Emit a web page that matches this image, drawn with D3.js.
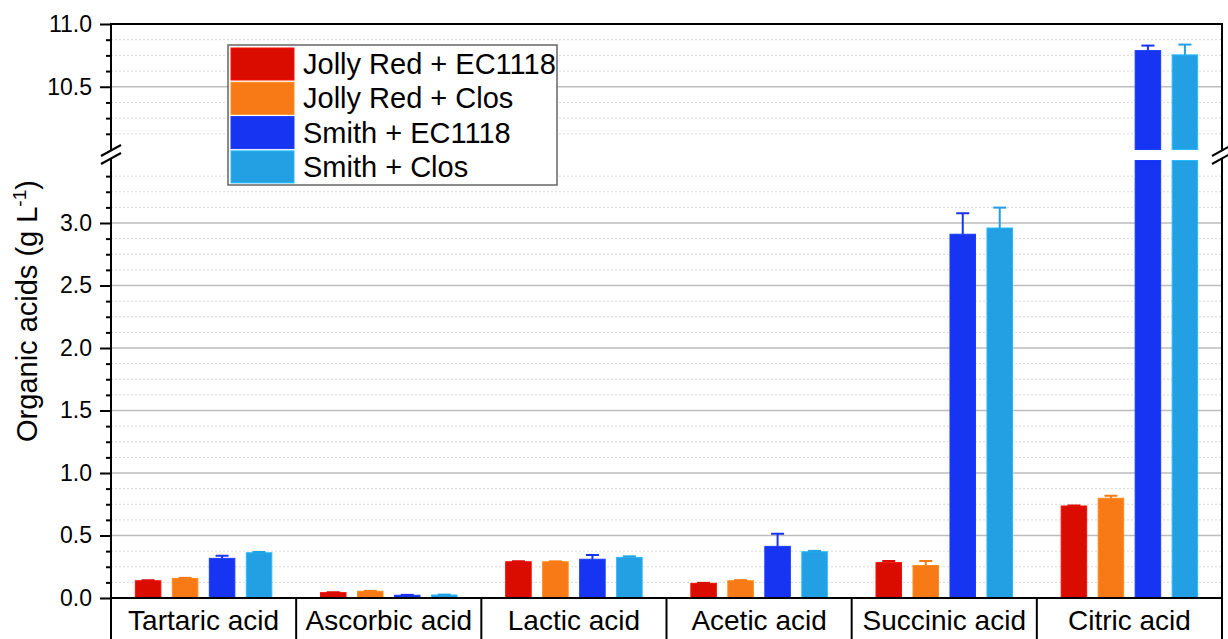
<!DOCTYPE html>
<html>
<head>
<meta charset="utf-8">
<script src="https://cdn.jsdelivr.net/npm/d3@7"></script>
<style>
  body { margin: 0; background: #fff; }
  svg text { font-family: "Liberation Sans", Arial, sans-serif; fill: #000; }
</style>
</head>
<body>
<svg id="chart" width="1228" height="639"></svg>
<script>
// data
const categories = ["Tartaric acid", "Ascorbic acid", "Lactic acid", "Acetic acid", "Succinic acid", "Citric acid"];
const seriesNames = ["Jolly Red + EC1118", "Jolly Red + Clos", "Smith + EC1118", "Smith + Clos"];
const seriesColors = ["#da0c00", "#f77a16", "#1634f2", "#22a0e3"];

const jollyEC = [0.138, 0.043, 0.290, 0.117, 0.283, 0.736];
const jollyEC_err = [0.004, 0.003, 0.004, 0.004, 0.013, 0.004];
const jollyClos = [0.157, 0.054, 0.290, 0.138, 0.260, 0.798];
const jollyClos_err = [0.004, 0.003, 0.003, 0.005, 0.036, 0.020];
const smithEC = [0.317, 0.022, 0.310, 0.413, 2.910, 10.788];
const smithEC_err = [0.021, 0.003, 0.034, 0.101, 0.168, 0.040];
const smithClos = [0.362, 0.024, 0.325, 0.370, 2.960, 10.754];
const smithClos_err = [0.006, 0.003, 0.008, 0.007, 0.163, 0.082];

const lowerMajor = [0, 0.5, 1.0, 1.5, 2.0, 2.5, 3.0];
const upperMajor = [10.5, 11.0];

const svg = d3.select('#chart');
const width = +svg.attr('width');
const height = +svg.attr('height');

const pLeft = 111, pRight = 1222, pTop = 24, pBottom = 598;
const values = [jollyEC, jollyClos, smithEC, smithClos];
const errors = [jollyEC_err, jollyClos_err, smithEC_err, smithClos_err];

// broken y axis: two linear pieces
const yLow = d3.scaleLinear().domain([0, 3.5]).range([pBottom, 160.5]);
const yHigh = d3.scaleLinear().domain([10, 11]).range([149.5, pTop]);
const yv = v => v > 3.5 ? yHigh(v) : yLow(v);

const groupW = 136.5;
const x0 = d3.scaleBand().domain(categories).range([pLeft, pRight]).padding(0);
const x1 = d3.scaleBand().domain(seriesNames).range([0, groupW]).paddingInner(0.31).paddingOuter(0);
const groupOff = (x0.bandwidth() - groupW) / 2;

const isHalf = v => Math.abs(v * 2 - Math.round(v * 2)) < 1e-6;
const minorLow = d3.range(0.125, 3.4, 0.125).filter(v => !isHalf(v));
const minorHigh = d3.range(10.125, 11, 0.125).filter(v => !isHalf(v));

// grid
const grid = svg.append('g');
grid.selectAll('.minor').data(minorLow.map(yLow).concat(minorHigh.map(yHigh)))
  .enter().append('line')
  .attr('x1', pLeft).attr('x2', pRight).attr('y1', d => d).attr('y2', d => d)
  .attr('stroke', '#d8d8d8').attr('stroke-width', 1).attr('stroke-dasharray', '2,2');
grid.selectAll('.major').data(lowerMajor.filter(v => v > 0).map(yLow).concat([yHigh(10.5)]))
  .enter().append('line')
  .attr('x1', pLeft).attr('x2', pRight).attr('y1', d => d).attr('y2', d => d)
  .attr('stroke', '#bdbdbd').attr('stroke-width', 1.5);

// bars
const flat = [];
categories.forEach((c, i) => {
  seriesNames.forEach((s, j) => {
    flat.push({cat: c, s: s, j: j, v: values[j][i], e: errors[j][i]});
  });
});

const bx = d => x0(d.cat) + groupOff + x1(d.s);
const bars = svg.append('g');
flat.forEach(d => {
  const col = seriesColors[d.j];
  const edge = d3.color(col).brighter(0.4);
  if (d.v > 3.5) {
    bars.append('rect').attr('x', bx(d)).attr('width', x1.bandwidth())
      .attr('y', yLow(3.5)).attr('height', yLow(0) - yLow(3.5))
      .attr('fill', col).attr('stroke', edge).attr('stroke-width', 1);
    bars.append('rect').attr('x', bx(d)).attr('width', x1.bandwidth())
      .attr('y', yHigh(d.v)).attr('height', yHigh(10) - yHigh(d.v))
      .attr('fill', col).attr('stroke', edge).attr('stroke-width', 1);
  } else {
    bars.append('rect').attr('x', bx(d)).attr('width', x1.bandwidth())
      .attr('y', yLow(d.v)).attr('height', yLow(0) - yLow(d.v))
      .attr('fill', col).attr('stroke', edge).attr('stroke-width', 1);
  }
  // error bar (upper half only)
  const cx = bx(d) + x1.bandwidth() / 2;
  const yTopErr = yv(d.v + d.e), yBar = yv(d.v);
  bars.append('line').attr('x1', cx).attr('x2', cx).attr('y1', yBar).attr('y2', yTopErr)
    .attr('stroke', col).attr('stroke-width', 2);
  bars.append('line').attr('x1', cx - 6.5).attr('x2', cx + 6.5).attr('y1', yTopErr).attr('y2', yTopErr)
    .attr('stroke', col).attr('stroke-width', 2);
});

// axes
const axLow = d3.axisLeft(yLow).tickValues(lowerMajor).tickSizeInner(11).tickSizeOuter(0).tickPadding(8).tickFormat(d3.format('.1f'));
const axHigh = d3.axisLeft(yHigh).tickValues(upperMajor).tickSizeInner(11).tickSizeOuter(0).tickPadding(8).tickFormat(d3.format('.1f'));
const axLowMinor = d3.axisLeft(yLow).tickValues(minorLow).tickSize(5).tickFormat('');
const axHighMinor = d3.axisLeft(yHigh).tickValues(minorHigh).tickSize(5).tickFormat('');

[axLow, axHigh, axLowMinor, axHighMinor].forEach(ax => {
  const g = svg.append('g').attr('transform', `translate(${pLeft},0)`).call(ax);
  g.select('.domain').remove();
  g.selectAll('.tick line').attr('stroke', '#000').attr('stroke-width', 2);
  g.selectAll('.tick text').style('font-size', '23px').attr('fill', '#000');
});

// frame lines
const frame = svg.append('g').attr('stroke', '#000').attr('stroke-width', 2).attr('fill', 'none');
frame.append('line').attr('x1', pLeft).attr('x2', pRight).attr('y1', pTop).attr('y2', pTop);
frame.append('line').attr('x1', pLeft - 1).attr('x2', pRight + 1).attr('y1', pBottom).attr('y2', pBottom);
[pLeft, pRight].forEach(xx => {
  frame.append('line').attr('x1', xx).attr('x2', xx).attr('y1', pTop - 1).attr('y2', 150);
  frame.append('line').attr('x1', xx).attr('x2', xx).attr('y1', 159).attr('y2', height);
  frame.append('line').attr('x1', xx - 10).attr('x2', xx + 10).attr('y1', 156).attr('y2', 145);
  frame.append('line').attr('x1', xx - 10).attr('x2', xx + 10).attr('y1', 164).attr('y2', 153);
});
// separators between category cells
categories.slice(1).forEach(c => {
  frame.append('line').attr('x1', x0(c)).attr('x2', x0(c)).attr('y1', pBottom).attr('y2', height);
});

// category labels
svg.append('g').selectAll('text').data(categories).enter().append('text')
  .attr('x', d => x0(d) + x0.bandwidth() / 2)
  .attr('y', 630)
  .attr('text-anchor', 'middle')
  .style('font-size', '28px')
  .text(d => d);

// y axis title
const yTitle = svg.append('text')
  .attr('transform', 'translate(37,311) rotate(-90)')
  .attr('text-anchor', 'middle')
  .style('font-size', '29px');
yTitle.append('tspan').text('Organic acids (g L');
yTitle.append('tspan').attr('dy', -11).style('font-size', '19px').text('-1');
yTitle.append('tspan').attr('dy', 11).text(')');

// legend
const lg = svg.append('g').attr('transform', 'translate(228,45)');
lg.append('rect').attr('width', 329).attr('height', 140)
  .attr('fill', '#fff').attr('stroke', '#666').attr('stroke-width', 1.5);
seriesNames.forEach((s, j) => {
  const row = lg.append('g').attr('transform', `translate(3,${3 + j * 34.3})`);
  row.append('rect').attr('width', 63).attr('height', 32).attr('fill', seriesColors[j])
    .attr('stroke', d3.color(seriesColors[j]).brighter(0.4)).attr('stroke-width', 1);
  row.append('text').attr('x', 72).attr('y', 26).style('font-size', '29px').text(s);
});
</script>
</body>
</html>
